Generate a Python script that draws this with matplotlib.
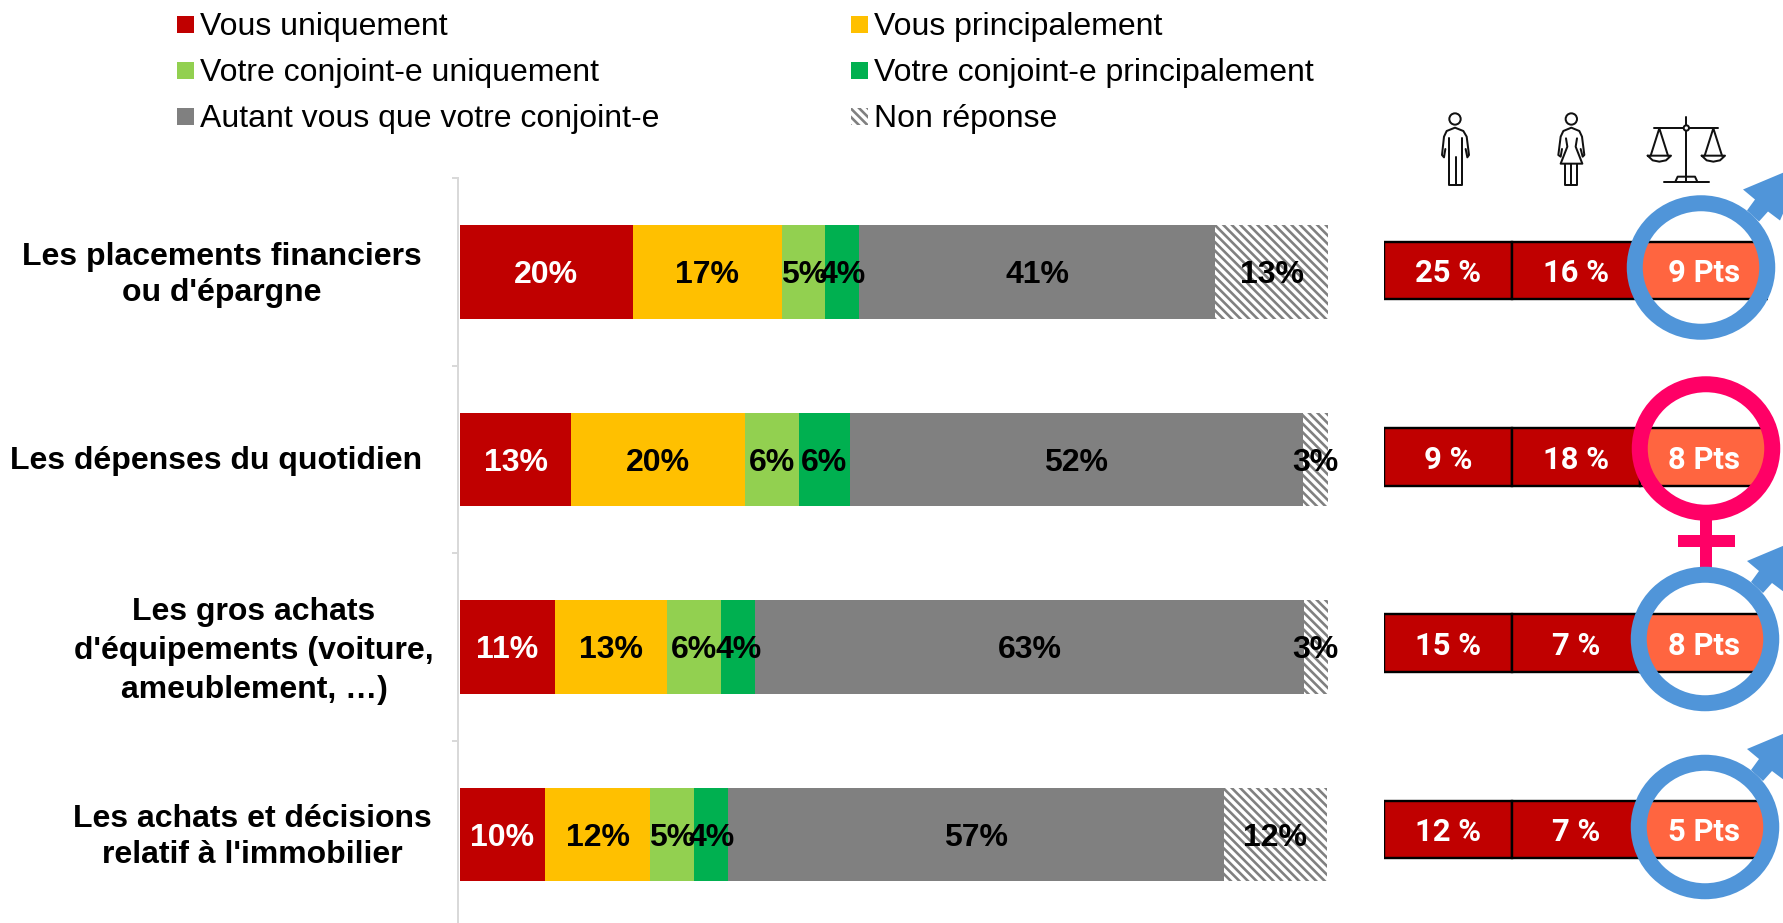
import numpy as np
import matplotlib
matplotlib.use("Agg")
import matplotlib.pyplot as plt
from matplotlib.patches import Rectangle, Circle, Ellipse, Polygon

categories = ["Les placements financiers\nou d'épargne",
              "Les dépenses du quotidien",
              "Les gros achats\nd'équipements (voiture,\nameublement, …)",
              "Les achats et décisions\nrelatif à l'immobilier"]
series_names = ["Vous uniquement", "Vous principalement", "Votre conjoint-e uniquement",
                "Votre conjoint-e principalement", "Autant vous que votre conjoint-e", "Non réponse"]
vous_uniq = [19.9, 12.8, 10.9, 9.8]
vous_princ = [17.2, 20.0, 13.0, 12.1]
conj_uniq = [5.0, 6.2, 6.2, 5.1]
conj_princ = [3.9, 5.9, 3.9, 3.9]
autant = [41.0, 52.2, 63.2, 57.1]
non_rep = [13.0, 2.9, 2.9, 11.9]
hommes = ["25 %", "9 %", "15 %", "12 %"]
femmes = ["16 %", "18 %", "7 %", "7 %"]
ecarts = ["9 Pts", "8 Pts", "8 Pts", "5 Pts"]
ecart_sexe = ["h", "f", "h", "h"]

W, H, DPI = 1783, 923, 128
PT = 72 / DPI
colors = ["#C00000", "#FFC000", "#92D050", "#00B050", "#808080", "white"]
label_colors = ["white", "black", "black", "black", "black", "black"]
BLUE = "#5095D9"
PINK = "#FF0066"
HATCH = "\\" * 5

plt.rcParams["hatch.color"] = "#808080"
plt.rcParams["hatch.linewidth"] = 2.6 * PT
arial = "Liberation Sans"


def px_axes(fig, x0, y0, x1, y1):
    # position donnee en pixels de l'image, y vers le bas
    return fig.add_axes([x0 / W, 1 - y1 / H, (x1 - x0) / W, (y1 - y0) / H])


def line(ax, x0, y0, pts, lw=2.0):
    pts = np.array(pts, dtype=float) / 3
    ax.plot(x0 + pts[:, 0], y0 + pts[:, 1], color="#111111", lw=lw * PT,
            solid_capstyle="round", solid_joinstyle="round", zorder=6)


def man(ax, x0, y0):
    ax.add_patch(Circle((x0 + 75 / 3, y0 + 42 / 3), 17 / 3, fc="none", ec="#111111", lw=2 * PT))
    line(ax, x0, y0, [(46, 132), (42, 157), (36, 150), (42, 95), (50, 78), (75, 68), (100, 78),
                      (110, 95), (117, 150), (112, 157), (107, 132)])
    line(ax, x0, y0, [(57, 100), (57, 240), (97, 240), (97, 100)])
    line(ax, x0, y0, [(77, 155), (77, 240)])


def woman(ax, x0, y0):
    ax.add_patch(Circle((x0 + 424 / 3, y0 + 42 / 3), 17 / 3, fc="none", ec="#111111", lw=2 * PT))
    line(ax, x0, y0, [(396, 132), (392, 155), (385, 150), (392, 95), (400, 78), (424, 68), (448, 78),
                      (456, 95), (463, 150), (458, 155), (452, 132)])
    line(ax, x0, y0, [(408, 100), (412, 125), (392, 176), (457, 176), (437, 125), (441, 100)])
    line(ax, x0, y0, [(405, 176), (405, 240), (442, 240), (442, 176)])
    line(ax, x0, y0, [(424, 176), (424, 240)])


def balance(ax, x0, y0):
    line(ax, x0, y0, [(154, 35), (154, 228)])
    line(ax, x0, y0, [(58, 70), (250, 70)])
    line(ax, x0, y0, [(88, 230), (222, 230)])
    line(ax, x0, y0, [(122, 228), (128, 215), (180, 215), (186, 228)])
    for c in (73, 235):
        line(ax, x0, y0, [(c - 26, 152), (c, 70), (c + 26, 152)])
        line(ax, x0, y0, [(c - 35, 152), (c + 35, 152), (c + 20, 166), (c, 170), (c - 20, 166), (c - 35, 152)])
    ax.add_patch(Circle((x0 + 154 / 3, y0 + 69 / 3), 8 / 3, fc="white", ec="#111111", lw=2 * PT, zorder=7))


def symbole(ax, cx, cy, sexe):
    col = BLUE if sexe == "h" else PINK
    if sexe == "h":
        # fleche en diagonale vers le haut a droite
        ax.add_patch(Polygon([(cx + 46, cy - 57), (cx + 58, cy - 46), (cx + 67, cy - 56), (cx + 79, cy - 47),
                              (cx + 104, cy - 104), (cx + 42, cy - 78), (cx + 54, cy - 68)], fc=col, ec="none", zorder=4))
    else:
        ax.add_patch(Rectangle((cx - 5.75, cy + 68), 11.5, 53, fc=col, ec="none", zorder=4))
        ax.add_patch(Rectangle((cx - 28.5, cy + 86), 57, 12, fc=col, ec="none", zorder=4))
    ax.add_patch(Ellipse((cx, cy), 132.5, 128.5, fc="none", ec=col, lw=16 * PT, zorder=5))


def main():
    fig = plt.figure(figsize=(W / DPI, H / DPI), dpi=DPI)

    # barres empilees
    pitch = 187.5
    ax = px_axes(fig, 460, 272 - pitch / 2, 1328, 272 + 3.5 * pitch)
    y = np.arange(len(categories))
    left = np.zeros(len(categories))
    for i, vals in enumerate([vous_uniq, vous_princ, conj_uniq, conj_princ, autant, non_rep]):
        hatch = HATCH if i == 5 else None
        bars = ax.barh(y, vals, left=left, height=0.5, color=colors[i], hatch=hatch,
                       edgecolor="#808080" if i == 5 else colors[i], linewidth=0)
        labs = ax.bar_label(bars, labels=["%d%%" % round(v) for v in vals], label_type="center",
                            color=label_colors[i], fontsize=32 * PT, fontweight="bold", family=arial, zorder=5)
        for t in labs:
            t.set_va("center_baseline")
        left += np.array(vals)
    ax.set_xlim(0, 100)
    ax.set_ylim(3.5, -0.5)
    ax.patch.set_visible(False)
    for s in ["top", "right", "bottom"]:
        ax.spines[s].set_visible(False)
    ax.spines["left"].set_color("#D9D9D9")
    ax.spines["left"].set_linewidth(2 * PT)
    ax.spines["left"].set_position(("outward", 1))
    ax.set_xticks([])
    ax.set_yticks(np.arange(-0.5, 3.5, 1))
    ax.set_yticklabels([])
    ax.tick_params(axis="y", length=6 * PT, width=2 * PT, color="#D9D9D9")

    # etiquettes des categories
    over = px_axes(fig, 0, 0, W, H)
    over.set_xlim(0, W)
    over.set_ylim(H, 0)
    over.axis("off")
    over.patch.set_visible(False)
    over.set_zorder(5)
    cat_x = [222, 216, 254, 252]
    cat_y = [275, 461, 651, 837]
    cat_sp = [1.23, 1.23, 1.39, 1.23]
    for c, cx, cy, sp in zip(categories, cat_x, cat_y, cat_sp):
        over.text(cx, cy, c, ha="center", va="center", fontsize=32 * PT, fontweight="bold",
                  family=arial, linespacing=sp, color="black")

    # legende
    leg_x = [177, 851]
    leg_y = [24.5, 70.5, 116.5]
    for i, name in enumerate(series_names):
        lx = leg_x[i % 2]
        ly = leg_y[i // 2]
        over.add_patch(Rectangle((lx, ly - 8.5), 17, 17, fc=colors[i], ec="#808080" if i == 5 else "none",
                                 lw=0, hatch=HATCH if i == 5 else None))
        over.text(lx + 23, ly + 2, name, ha="left", va="center", fontsize=32 * PT, family=arial, color="black")

    # tableau des ecarts
    tpitch = 186.3
    tab = px_axes(fig, 1384, 270.5 - tpitch / 2, 1768, 270.5 + 3.5 * tpitch)
    tab.set_xlim(0, 3)
    tab.set_ylim(3.5, -0.5)
    tab.axis("off")
    tab.patch.set_visible(False)
    tab.set_zorder(3)
    y2 = np.arange(len(hommes))
    for j, (txt, col) in enumerate(zip([hommes, femmes, ecarts], ["#C00000", "#C00000", "#FF6540"])):
        cells = tab.barh(y2, np.ones(len(y2)), left=j, height=0.31, color=col, edgecolor="black", linewidth=2.4 * PT)
        labs = tab.bar_label(cells, labels=txt, label_type="center", color="white",
                             fontsize=31 * PT, fontweight="bold", family="Roboto")
        for t in labs:
            t.set_va("center_baseline")

    top = px_axes(fig, 0, 0, W, H)
    top.set_xlim(0, W)
    top.set_ylim(H, 0)
    top.axis("off")
    top.patch.set_visible(False)
    top.set_zorder(6)
    sym_c = [(1701, 267.5), (1706, 448.5), (1705, 639), (1705, 827)]
    for (cx, cy), s in zip(sym_c, ecart_sexe):
        symbole(top, cx, cy, s)
    man(top, 1430, 105)
    woman(top, 1430, 105)
    balance(top, 1635, 105)

    fig.savefig("out.png", dpi=DPI)


if __name__ == "__main__":
    main()
